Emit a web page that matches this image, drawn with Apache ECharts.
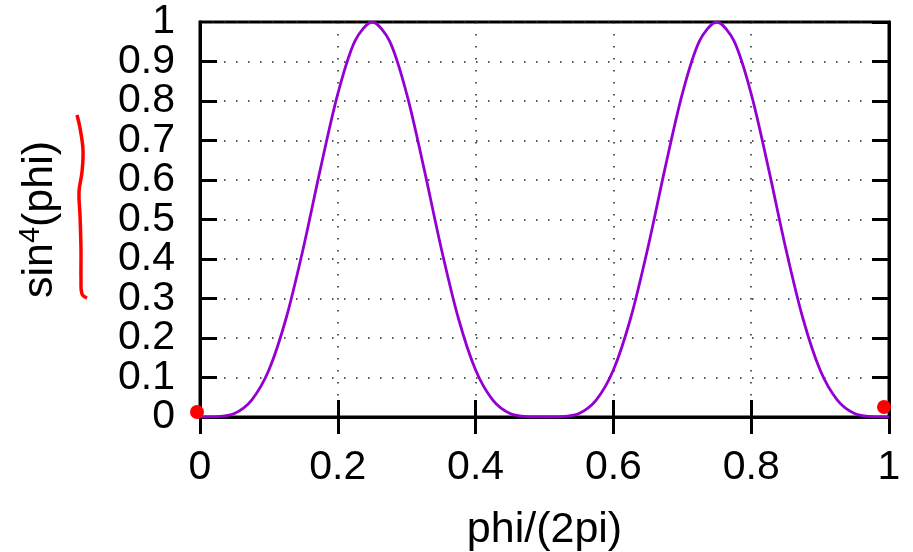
<!DOCTYPE html>
<html>
<head>
<meta charset="utf-8">
<script src="https://cdn.jsdelivr.net/npm/echarts@6/dist/echarts.min.js"></script>
<style>html,body{margin:0;padding:0;background:#fff}#c{width:913px;height:552px}</style>
</head>
<body>
<div id="c"></div>
<script>
// phi/(2pi) sample positions
var xValues = [0,0.025,0.05,0.075,0.1,0.125,0.15,0.175,0.2,0.225,0.25,0.275,0.3,0.325,0.35,0.375,0.4,0.425,0.45,0.475,0.5,
  0.525,0.55,0.575,0.6,0.625,0.65,0.675,0.7,0.725,0.75,0.775,0.8,0.825,0.85,0.875,0.9,0.925,0.95,0.975,1];
// sin^4(phi) values
var yValues = [0,0.001,0.009,0.043,0.119,0.25,0.428,0.63,0.818,0.952,1,0.952,0.818,0.63,0.428,0.25,0.119,0.043,0.009,0.001,0,
  0.001,0.009,0.043,0.119,0.25,0.428,0.63,0.818,0.952,1,0.952,0.818,0.63,0.428,0.25,0.119,0.043,0.009,0.001,0];
var xTicks = [0,0.2,0.4,0.6,0.8,1];
var yTicks = [0,0.1,0.2,0.3,0.4,0.5,0.6,0.7,0.8,0.9,1];
var annotationPoints = [[0,0],[1,0]];

var FONT = 'Liberation Sans';
var chart = echarts.init(document.getElementById('c'));
var seriesData = xValues.map(function(x,i){return [x,yValues[i]];});
var markOffsets = [[-3,-5],[-5,-10]];
var annotationData = annotationPoints.map(function(p,i){return {value:p, symbolOffset:markOffsets[i]};});
function fmt(v){return String(Math.round(v*10)/10);}
var tickStyle = {show:true, inside:true, length:17, lineStyle:{color:'#000', width:3}};
var split = {show:true, lineStyle:{color:'#222', width:1.5, type:[1.5,10.5]}};
var yLabelStyle = {fontFamily:FONT, fontSize:41, color:'#000', margin:25, formatter:fmt};
chart.setOption({
  animation:false,
  backgroundColor:'#fff',
  grid:{left:200, top:22, right:24, bottom:135, containLabel:false, outerBoundsMode:'none',
    show:true, borderColor:'#000', borderWidth:3, backgroundColor:'transparent'},
  xAxis:[{
    type:'value', min:xTicks[0], max:xTicks[xTicks.length-1], interval:0.2, position:'bottom',
    axisLine:{show:true, lineStyle:{color:'#000', width:3}},
    axisTick:tickStyle,
    splitLine:split,
    axisLabel:{fontFamily:FONT, fontSize:41, color:'#000', margin:30, formatter:fmt,
      showMinLabel:true, showMaxLabel:true},
    name:'phi/(2pi)', nameLocation:'middle', nameGap:92,
    nameTextStyle:{fontFamily:FONT, fontSize:43, color:'#000'}
  },{
    type:'value', min:0, max:1, interval:0.2, position:'top',
    axisLine:{show:true, lineStyle:{color:'#000', width:3}},
    axisTick:tickStyle, axisLabel:{show:false}, splitLine:{show:false}
  }],
  yAxis:[{
    type:'value', min:yTicks[0], max:yTicks[yTicks.length-1], interval:0.1, position:'left',
    axisLine:{show:true, lineStyle:{color:'#000', width:3}},
    axisTick:tickStyle,
    splitLine:split,
    axisLabel:Object.assign({showMinLabel:false, showMaxLabel:false}, yLabelStyle),
    name:'{a|sin}{b|4}{a|(phi)}', nameLocation:'middle', nameGap:136, nameRotate:90,
    nameTextStyle:{fontFamily:FONT, color:'#000',
      rich:{a:{fontFamily:FONT, fontSize:43, color:'#000', lineHeight:48},
            b:{fontFamily:FONT, fontSize:29, color:'#000', verticalAlign:'top', lineHeight:48}}}
  },{
    type:'value', min:yTicks[0], max:yTicks[yTicks.length-1], interval:1, position:'left', offset:0,
    axisLine:{show:false}, axisTick:{show:false}, splitLine:{show:false},
    axisLabel:Object.assign({showMinLabel:true, showMaxLabel:true}, yLabelStyle)
  },{
    type:'value', min:0, max:1, interval:0.1, position:'right',
    axisLine:{show:true, lineStyle:{color:'#000', width:3}},
    axisTick:tickStyle, axisLabel:{show:false}, splitLine:{show:false}
  }],
  series:[{
    type:'line', data:seriesData, smooth:0.3, showSymbol:false, xAxisIndex:0, yAxisIndex:0,
    lineStyle:{color:'#9400D3', width:2.8}, itemStyle:{color:'#9400D3'}, z:3
  },{
    type:'scatter', data:annotationData, symbolSize:14, xAxisIndex:0, yAxisIndex:0,
    itemStyle:{color:'#ff0000', opacity:1}, z:5
  }],
  graphic:[{
    type:'polyline', z:10,
    shape:{points:[[77,115],[80,128],[83,150],[82,172],[79,192],[80,215],[81,250],[81,280],[82,294],[87,298]], smooth:0.4},
    style:{stroke:'#ff0000', lineWidth:3.5, fill:null}
  }]
});
</script>
</body>
</html>
